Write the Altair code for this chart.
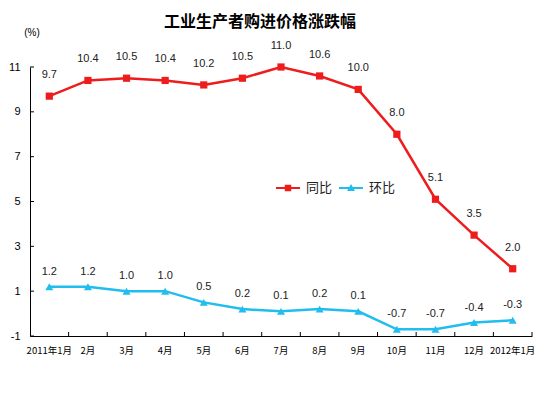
import altair as alt
import pandas as pd

months = ["2011年1月", "2月", "3月", "4月", "5月", "6月", "7月", "8月", "9月",
          "10月", "11月", "12月", "2012年1月"]
yoy = [9.7, 10.4, 10.5, 10.4, 10.2, 10.5, 11.0, 10.6, 10.0, 8.0, 5.1, 3.5, 2.0]
mom = [1.2, 1.2, 1.0, 1.0, 0.5, 0.2, 0.1, 0.2, 0.1, -0.7, -0.7, -0.4, -0.3]
series = ["同比", "环比"]
yticks = [-1, 1, 3, 5, 7, 9, 11]

RED = "#EE1C1C"
CYAN = "#20BDEE"
W, H = 502, 269

rows = []
for m, a, b in zip(months, yoy, mom):
    rows.append({"month": m, "series": series[0], "value": a})
    rows.append({"month": m, "series": series[1], "value": b})
df = pd.DataFrame(rows)
df_m = pd.DataFrame({"month": months})
df_t = pd.DataFrame({"value": yticks})

xscale = alt.Scale(type="band", paddingInner=0, paddingOuter=0)
yscale = alt.Scale(domain=[-1, 11], nice=False, zero=False)

xaxis = alt.Axis(title=None, labelAngle=0, labelFont="Noto Sans CJK SC", labelFontSize=9.5,
                 labelColor="#000", labelPadding=9, ticks=False, domainColor="#000",
                 domainWidth=1, labelOverlap=False, grid=False)
yaxis = alt.Axis(title="(%)", titleAngle=0, titleX=1.5, titleY=-35, titleAlign="center",
                 titleBaseline="middle", titleFontSize=10, titleFontWeight="normal",
                 titleFont="Liberation Sans", titleColor="#000",
                 values=yticks, labelFont="Liberation Sans", labelFontSize=11,
                 labelExpr="replace(datum.label, '\u2212', '-')",
                 labelColor="#000", labelPadding=10, ticks=False, domainColor="#000",
                 domainWidth=1, grid=False)


def X(bp=0.5):
    return alt.X("month:N", sort=months, scale=xscale, bandPosition=bp, axis=xaxis)


def Y():
    return alt.Y("value:Q", scale=yscale, axis=yaxis)


def cscale():
    return alt.Scale(domain=series, range=[RED, CYAN])


base = alt.Chart(df)

lines = base.mark_line(strokeWidth=2.5).encode(
    x=X(), y=Y(),
    color=alt.Color("series:N", scale=cscale(), legend=None),
    detail="series:N",
)

points = base.mark_point(filled=True, opacity=1, strokeWidth=0).encode(
    x=X(), y=Y(),
    color=alt.Color("series:N", scale=cscale(), legend=None),
    shape=alt.Shape("series:N", scale=alt.Scale(domain=series, range=["square", "triangle-up"]), legend=None),
    size=alt.Size("series:N", scale=alt.Scale(domain=series, range=[52, 64]), legend=None),
)

txt_style = dict(font="Liberation Sans", fontSize=11, color="#222", baseline="middle")
lbl = "replace(format(datum.value, '.1f'), '\u2212', '-')"
labels_yoy = base.transform_filter(alt.datum.series == series[0]).transform_calculate(
    lbl=lbl).mark_text(dy=-21, **txt_style).encode(x=X(), y=Y(), text="lbl:N")
labels_mom = base.transform_filter(alt.datum.series == series[1]).transform_calculate(
    lbl=lbl).mark_text(dy=-15, **txt_style).encode(x=X(), y=Y(), text="lbl:N")

# inward axis ticks
xticks = alt.Chart(df_m).mark_rule(color="#000", strokeWidth=1).encode(
    x=X(bp=1), y=alt.value(H), y2=alt.value(H - 4))
yticks_l = alt.Chart(df_t).mark_rule(color="#000", strokeWidth=1).encode(
    y=Y(), x=alt.value(0), x2=alt.value(4))

# legend (line + marker symbols)
p_sq = "M-1,-0.085H1V0.085H-1Z M-0.27,-0.27H0.27V0.27H-0.27Z"
p_tri = "M-1,-0.085H1V0.085H-1Z M0,-0.33L0.33,0.25H-0.33Z"
leg = dict(title=None, orient="none", legendX=246, legendY=109, direction="horizontal",
           symbolSize=576, symbolStrokeWidth=0, symbolOpacity=1, labelFont="Noto Sans CJK SC",
           labelFontSize=13, labelColor="#222", labelOffset=6, columnPadding=6, padding=0)
legend_layer = base.transform_filter("false").mark_point(filled=True, opacity=1, strokeWidth=0).encode(
    x=X(), y=Y(),
    color=alt.Color("series:N", scale=cscale(), legend=alt.Legend(**leg)),
    shape=alt.Shape("series:N", scale=alt.Scale(domain=series, range=[p_sq, p_tri]), legend=alt.Legend(**leg)),
)

chart = alt.layer(
    lines, xticks, yticks_l, points, labels_yoy, labels_mom, legend_layer
).resolve_scale(
    color="independent", shape="independent"
).properties(
    width=W, height=H,
    autosize=alt.AutoSizeParams(type="none"),
    padding={"left": 22, "top": 59, "right": 14, "bottom": 49},
    background="white",
    title=alt.TitleParams("工业生产者购进价格涨跌幅", font="Noto Sans CJK SC", fontSize=16,
                          fontWeight="bold", color="#000", anchor="middle", frame="group",
                          dx=-21, dy=3, offset=0),
).configure_view(stroke=None)

chart.save("out.html", embed_options={"renderer": "svg", "actions": False})
